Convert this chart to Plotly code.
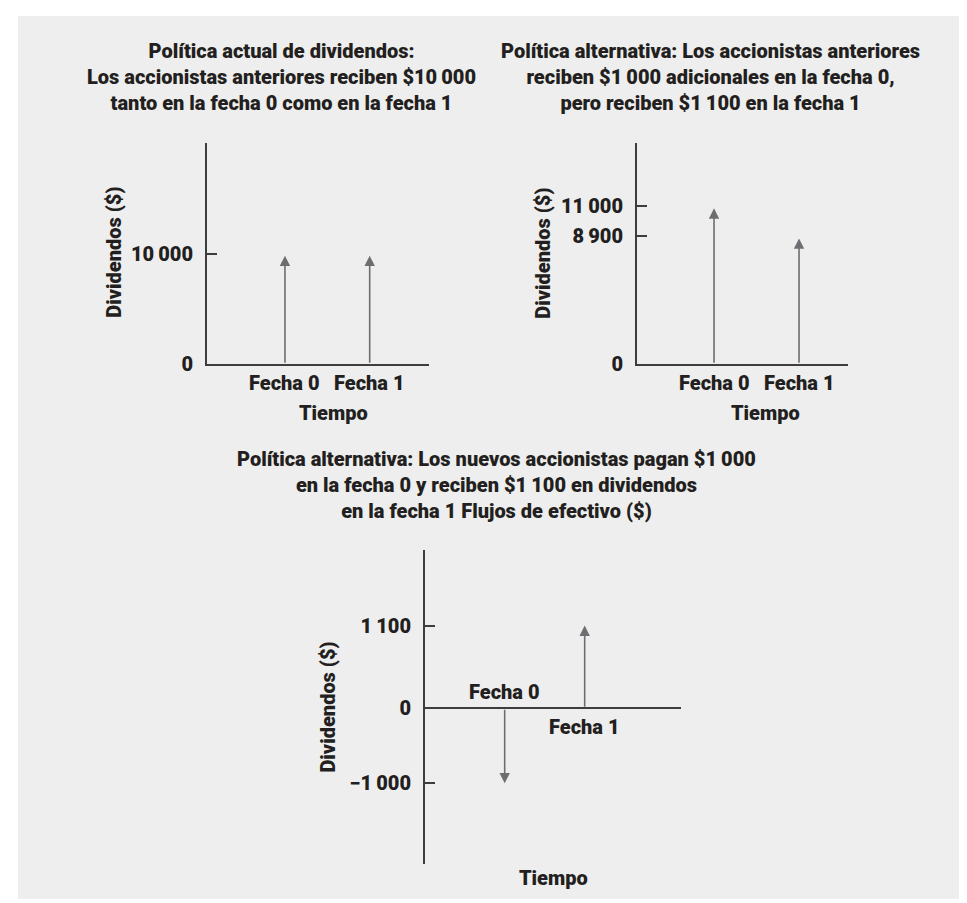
import plotly.graph_objs as go

W, H = 967, 903

# datos
fechas = ["Fecha 0", "Fecha 1"]
div_actual = [10000, 10000]
div_alternativa = [11000, 8900]
flujos_nuevos = [-1000, 1100]

ticks_actual = [0, 10000]
ticks_alternativa = [0, 8900, 11000]
ticks_nuevos = [-1000, 0, 1100]

titulos = [
    "Política actual de dividendos:<br>Los accionistas anteriores reciben $10\u2009000<br>tanto en la fecha 0 como en la fecha 1",
    "Política alternativa: Los accionistas anteriores<br>reciben $1\u2009000 adicionales en la fecha 0,<br>pero reciben $1\u2009100 en la fecha 1",
    "Política alternativa: Los nuevos accionistas pagan $1\u2009000<br>en la fecha 0 y reciben $1\u2009100 en dividendos<br>en la fecha 1 Flujos de efectivo ($)",
]
titulo_y = "Dividendos ($)"
titulo_x = "Tiempo"

FONT = "Roboto, DejaVu Sans Condensed, sans-serif"
SIZE = 20
WEIGHT = 900
TXT = "#231f20"
EJE = "#3d3d3d"
FLECHA = "#6d6e71"


def fmt(v):
    s = f"{abs(v):,}".replace(",", "\u2009")
    return ("\u2212" + s) if v < 0 else s


def px(x):
    return x / W


def py(y):
    return 1 - y / H


def name(kind, n):
    return kind if n == 1 else f"{kind}{n}"


paneles = [
    dict(n=1, vals=div_actual, ticks=ticks_actual, xpx=(199, 421), ypx=(137, 361),
         xr=[-0.92, 1.7], yr=[0, 20000], standoff=2, shift=[-19, -19]),
    dict(n=2, vals=div_alternativa, ticks=ticks_alternativa, xpx=(629, 840), ypx=(137, 361),
         xr=[-0.906, 1.576], yr=[0, 15400], standoff=2, shift=[-19, -19]),
    dict(n=3, vals=flujos_nuevos, ticks=ticks_nuevos, xpx=(417, 673), ypx=(549, 868),
         xr=[-0.996, 2.204], yr=[-2080, 2110], standoff=0, shift=[16, -19]),
]

fig = go.Figure()
layout = dict(
    width=W, height=H, margin=dict(l=0, r=0, t=0, b=0),
    paper_bgcolor="white", plot_bgcolor="rgba(0,0,0,0)",
    showlegend=False, font=dict(family=FONT, size=SIZE, color=TXT, weight=WEIGHT),
    shapes=[dict(type="rect", xref="paper", yref="paper", x0=px(10), x1=1, y0=0, y1=py(8),
                 fillcolor="#eeeeee", line=dict(width=0), layer="below")],
    annotations=[],
)

for p in paneles:
    n = p["n"]
    xa, ya = name("xaxis", n), name("yaxis", n)
    xr, yr = name("x", n), name("y", n)
    layout[xa] = dict(domain=[px(p["xpx"][0]), px(p["xpx"][1])], range=p["xr"], anchor=yr,
                      showline=(n != 3), linecolor=EJE, linewidth=2, showgrid=False,
                      zeroline=False, showticklabels=False, ticks="", fixedrange=True)
    layout[ya] = dict(domain=[py(p["ypx"][1]), py(p["ypx"][0])], range=p["yr"], anchor=xr,
                      showline=True, linecolor=EJE, linewidth=2, showgrid=False,
                      zeroline=(n == 3), zerolinecolor=EJE, zerolinewidth=2,
                      ticks="inside", ticklen=10, tickwidth=1.5, tickcolor=EJE,
                      tickvals=p["ticks"] + [p["yr"][1]],
                      ticktext=[fmt(t) for t in p["ticks"]] + [""],
                      tickfont=dict(family=FONT, size=SIZE, color=TXT, weight=WEIGHT),
                      ticklabelstandoff=8, fixedrange=True)
    fig.add_trace(go.Scatter(x=list(range(len(p["vals"]))), y=p["vals"], mode="markers",
                             marker=dict(opacity=0), hoverinfo="skip", xaxis=xr, yaxis=yr))
    for i, v in enumerate(p["vals"]):
        layout["annotations"].append(dict(
            xref=xr, yref=yr, axref=xr, ayref=yr, x=i, y=v, ax=i, ay=0, text="",
            showarrow=True, arrowhead=2, arrowsize=1.3, arrowwidth=1.6,
            arrowcolor=FLECHA, standoff=p["standoff"]))
        layout["annotations"].append(dict(
            xref=xr, yref=yr, x=i, y=0, yshift=p["shift"][i], text=fechas[i],
            showarrow=False, xanchor="center", yanchor="middle"))

# titulos de paneles
for t, (cx, cy) in zip(titulos, [(273, 70), (702, 70), (488, 483)]):
    layout["annotations"].append(dict(xref="paper", yref="paper", x=px(cx), y=py(cy), text=t,
                                      showarrow=False, align="center",
                                      xanchor="center", yanchor="middle"))

# titulos de ejes
for cx, cy in [(106, 248), (535, 249), (320, 709)]:
    layout["annotations"].append(dict(xref="paper", yref="paper", x=px(cx), y=py(cy),
                                      text=titulo_y, textangle=-90, showarrow=False,
                                      xanchor="center", yanchor="middle"))
for cx, cy in [(325, 410), (757, 410), (545, 882)]:
    layout["annotations"].append(dict(xref="paper", yref="paper", x=px(cx), y=py(cy),
                                      text=titulo_x, showarrow=False,
                                      xanchor="center", yanchor="middle"))

fig.update_layout(layout)
fig.write_html("out.html")
